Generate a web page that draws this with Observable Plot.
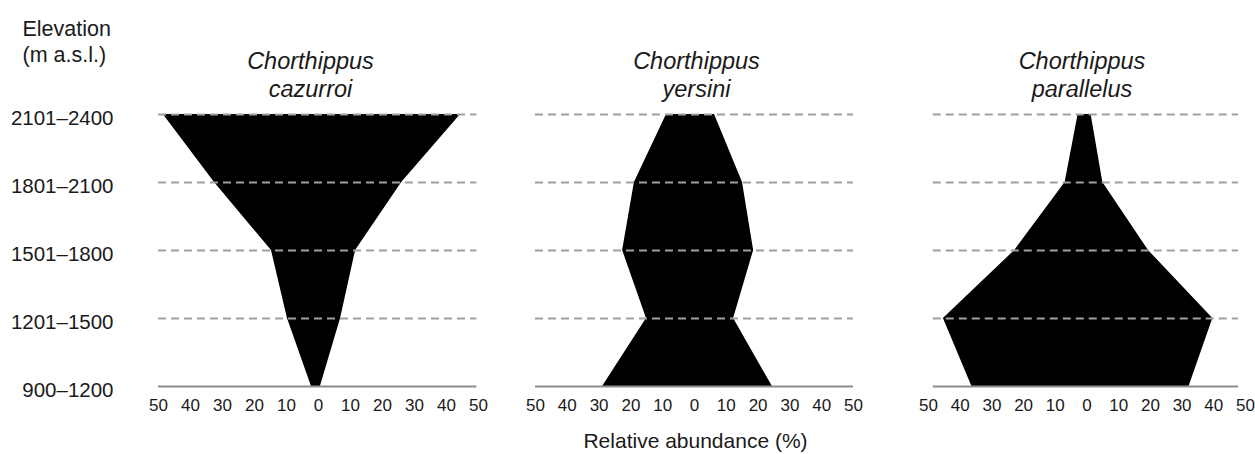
<!DOCTYPE html>
<html>
<head>
<meta charset="utf-8">
<script src="https://cdn.jsdelivr.net/npm/d3@7"></script>
<script src="https://cdn.jsdelivr.net/npm/@observablehq/plot@0.6"></script>
<style>
  html, body { margin: 0; padding: 0; background: white; }
  #chart { display: flex; width: 1255px; height: 454px; overflow: hidden; }
  #chart svg { overflow: visible; background: transparent; }
</style>
</head>
<body>
<div id="chart"></div>
<script>
// Elevation classes (top to bottom)
const elevations = ["2101–2400", "1801–2100", "1501–1800", "1201–1500", "900–1200"];
// Relative abundance (%) — left side and right side of each profile
const cazurroiLeft  = [48.5, 32.5, 14.7, 9.7, 2.2];
const cazurroiRight = [44.4, 26.0, 11.6, 6.9, 0.6];
const yersiniLeft   = [8.8, 18.9, 22.6, 15.1, 28.9];
const yersiniRight  = [6.3, 15.1, 18.6, 12.3, 24.5];
const parallelusLeft  = [2.8, 6.9, 22.8, 45.3, 36.3];
const parallelusRight = [1.3, 5.0, 19.4, 39.7, 32.2];
const xTicks = [-50, -40, -30, -20, -10, 0, 10, 20, 30, 40, 50];
const species = ["Chorthippus\ncazurroi", "Chorthippus\nyersini", "Chorthippus\nparallelus"];

const font = "'Liberation Sans', Arial, Helvetica, sans-serif";

function rows(left, right) {
  return elevations.map((e, i) => ({elev: e, left: -left[i], right: right[i]}));
}

const panels = [
  {title: species[0], data: rows(cazurroiLeft, cazurroiRight), width: 505, ml: 158, mr: 27, titleDx: -8, extent: [-50, 49.5], yAxis: true},
  {title: species[1], data: rows(yersiniLeft, yersiniRight), width: 385, ml: 30, mr: 37, titleDx: 2, extent: [-50, 50], xLabel: true},
  {title: species[2], data: rows(parallelusLeft, parallelusRight), width: 365, ml: 38, mr: 10, titleDx: -5, extent: [-48.5, 47.8]}
];

const chart = document.getElementById("chart");

for (const p of panels) {
  const marks = [
    Plot.areaX(p.data, {y: "elev", x1: "left", x2: "right", fill: "black", curve: "linear"}),
    Plot.ruleY(elevations.slice(0, 4), {x1: p.extent[0], x2: p.extent[1], stroke: "#a0a0a0", strokeWidth: 2, strokeDasharray: "8,5"}),
    Plot.ruleY(elevations.slice(4), {x1: p.extent[0], x2: p.extent[1], stroke: "#8c8c8c", strokeWidth: 2}),
    Plot.axisX({ticks: xTicks, tickFormat: d => Math.abs(d), tickSize: 0, tickPadding: 11, fontSize: 17, fill: "#1a1a1a", label: null}),
    Plot.text([p.title], {frameAnchor: "top", lineAnchor: "top", dy: -65, dx: p.titleDx, fontSize: 23.5, fontStyle: "italic", lineHeight: 1.2, fill: "#1a1a1a"})
  ];
  if (p.yAxis) {
    marks.push(Plot.axisY({tickSize: 0, tickPadding: 45, fontSize: 20.5, dy: 4, fill: "#1a1a1a", label: null}));
    marks.push(Plot.text(["Elevation\n(m a.s.l.)"], {frameAnchor: "top-left", textAnchor: "start", lineAnchor: "top", dx: -136, dy: -96, fontSize: 21.5, lineHeight: 1.2, fill: "#1a1a1a"}));
  } else {
    marks.push(Plot.axisY({ticks: [], label: null}));
  }
  if (p.xLabel) {
    marks.push(Plot.text(["Relative abundance (%)"], {frameAnchor: "bottom", lineAnchor: "top", dy: 46, dx: 1, fontSize: 21, fill: "#1a1a1a"}));
  }
  const svg = Plot.plot({
    width: p.width,
    height: 454,
    marginLeft: p.ml,
    marginRight: p.mr,
    marginTop: 113,
    marginBottom: 67,
    style: {fontFamily: font, background: "transparent", overflow: "visible"},
    x: {domain: [-50, 50]},
    y: {type: "point", domain: elevations, padding: 0},
    marks
  });
  chart.appendChild(svg);
}
</script>
</body>
</html>
